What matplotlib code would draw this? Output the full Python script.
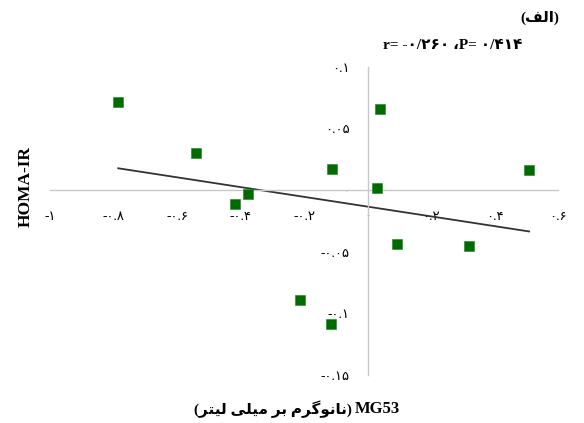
import numpy as np
import matplotlib
matplotlib.use("Agg")
import matplotlib.pyplot as plt

# MG53 against HOMA-IR
mg53 = [-0.785, -0.540, -0.416, -0.377, -0.111, -0.213, -0.114, 0.039, 0.030, 0.093, 0.321, 0.509]
homa_ir = [0.0716, 0.0307, -0.0112, -0.0031, 0.0174, -0.0885, -0.108, 0.0656, 0.002, -0.0432, -0.0454, 0.0163]

x_ticks = [-1, -0.8, -0.6, -0.4, -0.2, 0, 0.2, 0.4, 0.6]
x_tick_labels = ["-۱", "-۰.۸", "-۰.۶", "-۰.۴", "-۰.۲", "۰", "۰.۲", "۰.۴", "۰.۶"]
y_ticks = [0.1, 0.05, 0, -0.05, -0.1, -0.15]
y_tick_labels = ["۰.۱", "۰.۰۵", "۰", "-۰.۰۵", "-۰.۱", "-۰.۱۵"]

# Persian strings written in visual (left-to-right) order with joined letter forms
panel_label = "(\uFED2\uFEDF\uFE8D)"
stats_label = "r= -۰/۲۶۰ \u060CP= ۰/۴۱۴"
unit_label = "(\uFEAE\uFE98\uFEF4\uFEDF \uFEF0\uFEE0\uFEF4\uFEE3 \uFEAE\uFE91 \uFEE1\uFEAE\uFB94\uFEEE\uFEE7\uFE8E\uFEE7)"

fonts = ["Liberation Serif", "DejaVu Sans"]
green = "#006b00"

fig = plt.figure(figsize=(5.84, 4.23), dpi=100)
ax = fig.add_axes([0.0856, 0.1123, 0.870, 0.7293])

ax.scatter(mg53, homa_ir, marker="s", s=62, color=green, edgecolors="#1f7f1f",
           linewidths=0.4, zorder=3)

# linear trend over the range of the data
slope, intercept = np.polyfit(mg53, homa_ir, 1)
xs = np.array([min(mg53), max(mg53)])
ax.plot(xs, slope * xs + intercept, color="#333333", lw=1.3, zorder=2)

ax.set_xlim(-1, 0.6)
ax.set_ylim(-0.15, 0.1)

for side in ("top", "right"):
    ax.spines[side].set_visible(False)
for side in ("left", "bottom"):
    ax.spines[side].set_position(("data", 0))
    ax.spines[side].set_color("#c8c8c8")
    ax.spines[side].set_linewidth(1.0)

ax.set_xticks(x_ticks, x_tick_labels)
ax.set_yticks(y_ticks, y_tick_labels)
ax.tick_params(axis="x", length=0, pad=15, labelsize=9.5)
ax.tick_params(axis="y", length=0, pad=13, labelsize=9.5)
for lab in ax.get_xticklabels() + ax.get_yticklabels():
    lab.set_family(fonts)

fig.text(0.044, 0.558, "HOMA-IR", rotation=90, ha="center", va="center",
         fontsize=12.5, fontweight="bold", family=fonts)
fig.text(0.607, 0.033, "MG53", ha="left", va="center",
         fontsize=12, fontweight="bold", family=fonts)
fig.text(0.603, 0.033, unit_label, ha="right", va="center",
         fontsize=11, fontweight="bold", family=fonts)
fig.text(0.925, 0.957, panel_label, ha="center", va="center",
         fontsize=11, fontweight="bold", family=fonts)
fig.text(0.775, 0.893, stats_label, ha="center", va="center",
         fontsize=11, fontweight="bold", family=fonts)

fig.savefig("out.png", dpi=100)
